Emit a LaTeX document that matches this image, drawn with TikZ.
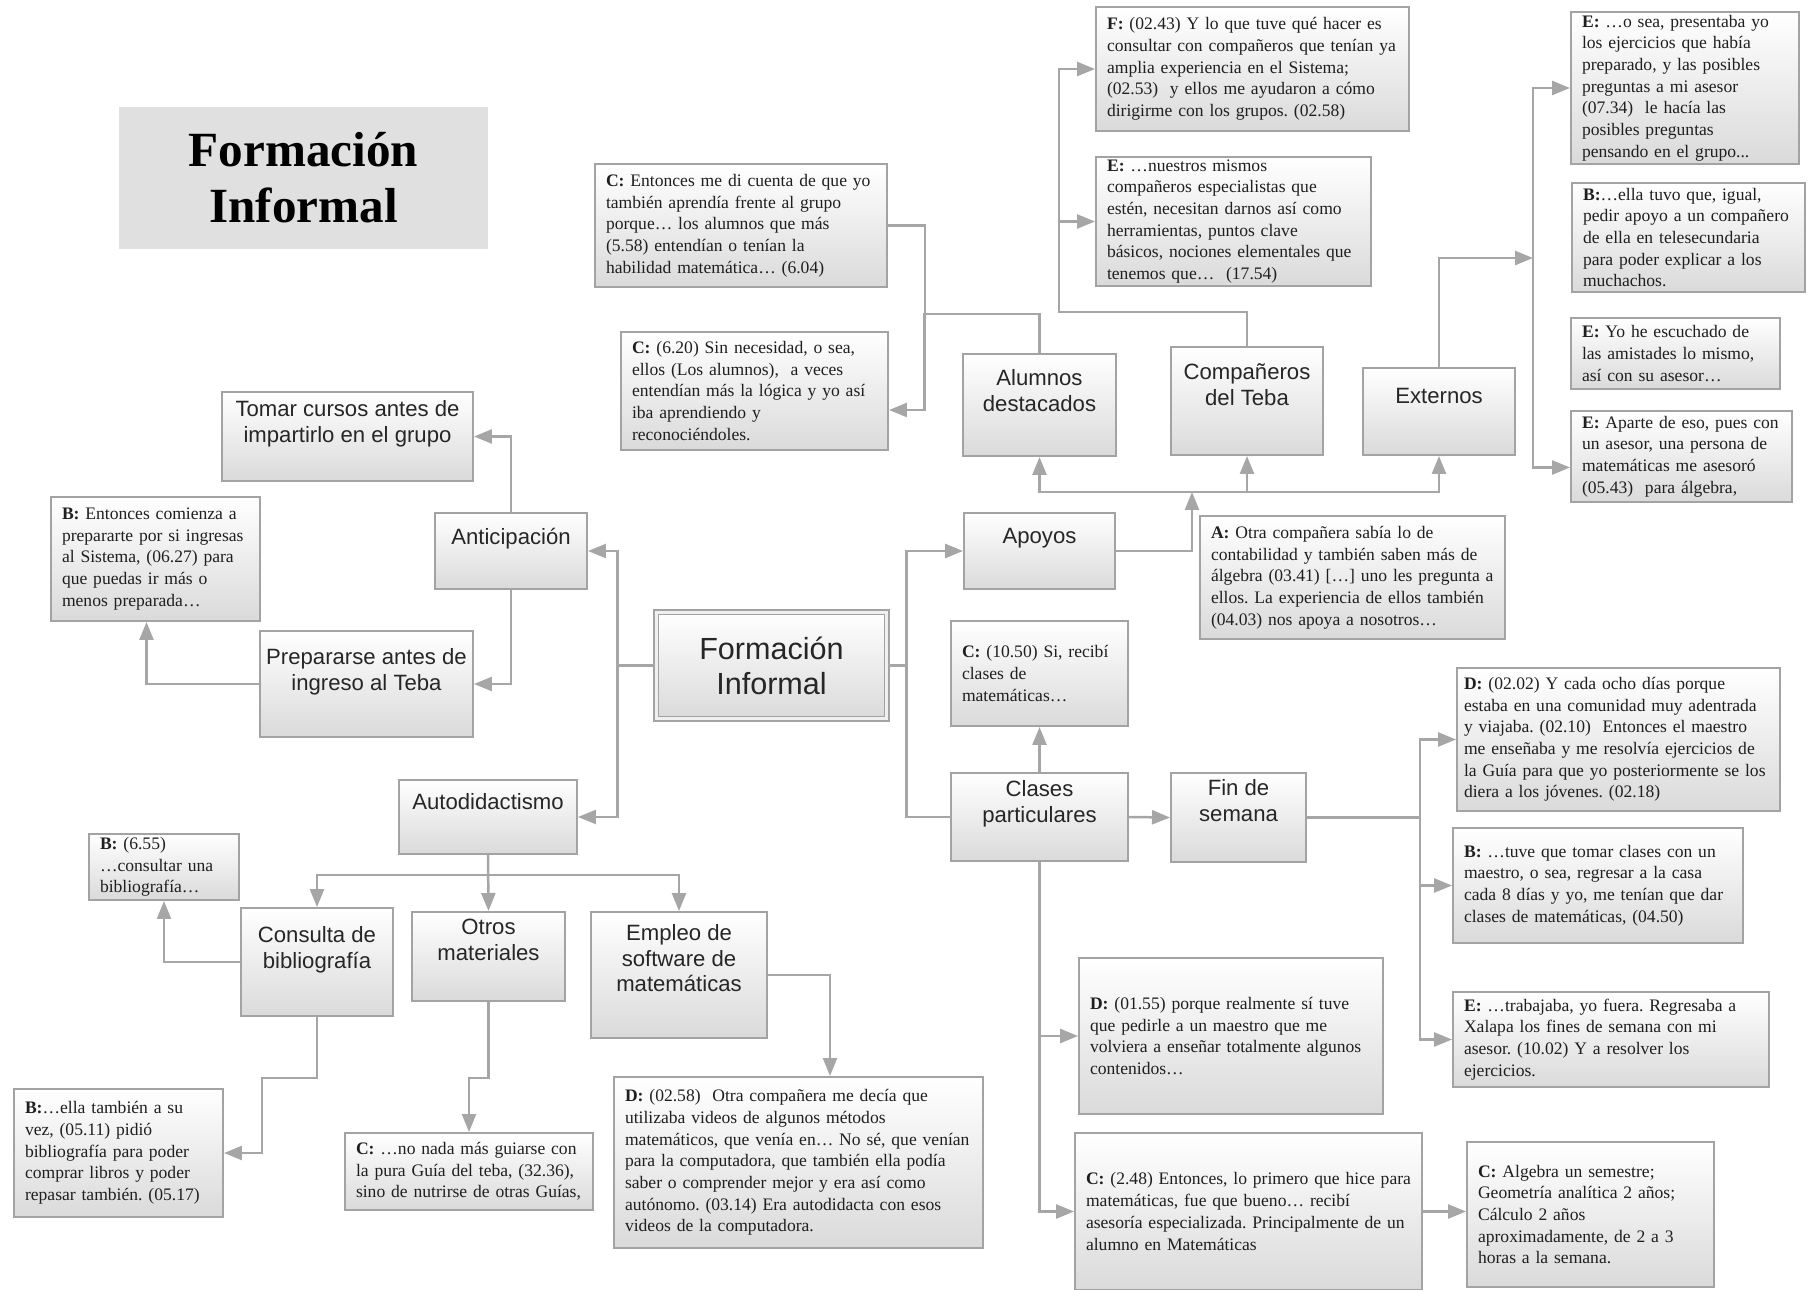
\documentclass[tikz,border=0pt]{standalone}
\usepackage{fontspec}
\setmainfont{Liberation Serif}
\newfontfamily\lbsans{Liberation Sans}
\usepackage{tikz}
\usetikzlibrary{arrows.meta, calc}

\definecolor{boxline}{HTML}{A3A3A3}
\definecolor{boxfill}{HTML}{DADADA}
\definecolor{conline}{HTML}{A6A6A6}
\definecolor{titlefill}{HTML}{E0E0E0}

\frenchspacing

\begin{document}
\begin{tikzpicture}[
  x=0.02cm, y=-0.02cm,
  box/.style={draw=boxline, line width=0.04cm, top color=white, bottom color=boxfill, inner sep=0pt},
  quote/.style={box, align=left, inner xsep=0.22cm, inner ysep=0pt,
                font=\fontsize{10}{12.35}\selectfont, text=black!88},
  lbltxt/.style={anchor=north, inner sep=0pt, align=center,
                 font=\lbsans\fontsize{12.6}{14.6}\selectfont, text=black!85},
  titlebox/.style={fill=titlefill, align=center, font=\bfseries\fontsize{28}{32}\selectfont},
  centro/.style={box, draw=boxline, line width=0.03cm, double=boxfill!40, double distance=0.06cm,
                 align=center, font=\lbsans\fontsize{17.4}{19.8}\selectfont, text=black!85},
  con/.style={draw=conline, line width=0.05cm, -{Triangle[length=0.36cm, width=0.28cm]}},
  link/.style={draw=conline, line width=0.05cm}
]
\useasboundingbox (0,0) rectangle (1809,1290);

% title
\node[titlebox, minimum width=7.38cm, minimum height=2.84cm] (title) at (303.5,178) {Formación\\Informal};

% centre
\node[centro, minimum width=4.62cm, minimum height=2.14cm] (centro) at (771.5,665.5) {Formación\\Informal};

% left side
\node[box, minimum width=5.02cm, minimum height=1.78cm,
      label={[lbltxt, yshift=-0.18cm]north:Tomar cursos antes de\\impartirlo en el grupo}] (tomar) at (347.5,436.5) {};
\node[box, minimum width=3.04cm, minimum height=1.52cm,
      label={[lbltxt, yshift=-0.32cm]north:Anticipación}] (antic) at (511,551) {};
\node[quote, text width=3.74cm, minimum height=2.48cm] (b0627) at (155.5,559)
  {\textbf{B:} Entonces comienza a\\prepararte por si ingresas\\al Sistema, (06.27) para\\que puedas ir más o\\menos preparada…};
\node[box, minimum width=4.26cm, minimum height=2.12cm,
      label={[lbltxt, yshift=-0.36cm]north:Prepararse antes de\\ingreso al Teba}] (prep) at (366.5,684) {};
\node[box, minimum width=3.56cm, minimum height=1.48cm,
      label={[lbltxt, yshift=-0.28cm]north:Autodidactismo}] (autod) at (488,817) {};
\node[quote, text width=2.56cm, minimum height=1.32cm] (b655) at (164,867)
  {\textbf{B:} (6.55)\\…consultar una\\bibliografía…};
\node[box, minimum width=3.04cm, minimum height=2.16cm,
      label={[lbltxt, yshift=-0.38cm]north:Consulta de\\bibliografía}] (consulta) at (317,962) {};
\node[box, minimum width=3.06cm, minimum height=1.78cm,
      label={[lbltxt, yshift=-0.16cm]north:Otros\\materiales}] (otros) at (488.5,956.5) {};
\node[box, minimum width=3.52cm, minimum height=2.52cm,
      label={[lbltxt, yshift=-0.26cm]north:Empleo de\\software de\\matemáticas}] (empleo) at (679,975) {};
\node[quote, text width=3.74cm, minimum height=2.56cm] (bella) at (118.5,1153)
  {\textbf{B:}…ella también a su\\vez, (05.11) pidió\\bibliografía para poder\\comprar libros y poder\\repasar también. (05.17)};
\node[quote, text width=4.52cm, minimum height=1.54cm] (cnonada) at (469,1171.5)
  {\textbf{C:} …no nada más guiarse con\\la pura Guía del teba, (32.36),\\sino de nutrirse de otras Guías,};
\node[quote, text width=6.94cm, minimum height=3.42cm] (d0258) at (798.5,1162.5)
  {\textbf{D:} (02.58)~ Otra compañera me decía que\\utilizaba videos de algunos métodos\\matemáticos, que venía en… No sé, que venían\\para la computadora, que también ella podía\\saber o comprender mejor y era así como\\autónomo. (03.14) Era autodidacta con esos\\videos de la computadora.};

% upper middle
\node[quote, text width=5.4cm, minimum height=2.46cm] (c1) at (741,225.5)
  {\textbf{C:} Entonces me di cuenta de que yo\\también aprendía frente al grupo\\porque… los alumnos que más\\(5.58) entendían o tenían la\\habilidad matemática… (6.04)};
\node[quote, text width=4.9cm, minimum height=2.36cm] (c2) at (754.5,391)
  {\textbf{C:} (6.20) Sin necesidad, o sea,\\ellos (Los alumnos),~ a veces\\entendían más la lógica y yo así\\iba aprendiendo y\\reconociéndoles.};
\node[quote, text width=5.82cm, minimum height=2.48cm] (f0243) at (1252.5,69)
  {\textbf{F:} (02.43) Y lo que tuve qué hacer es\\consultar con compañeros que tenían ya\\amplia experiencia en el Sistema;\\(02.53)~ y ellos me ayudaron a cómo\\dirigirme con los grupos. (02.58)};
\node[quote, text width=5.06cm, minimum height=2.58cm] (enuestros) at (1233.5,221.5)
  {\textbf{E:} …nuestros mismos\\compañeros especialistas que\\estén, necesitan darnos así como\\herramientas, puntos clave\\básicos, nociones elementales que\\tenemos que…~ (17.54)};
\node[box, minimum width=3.06cm, minimum height=2.04cm,
      label={[lbltxt, yshift=-0.32cm]north:Alumnos\\destacados}] (alumnos) at (1039.5,405) {};
\node[box, minimum width=3.04cm, minimum height=2.16cm,
      label={[lbltxt, yshift=-0.35cm]north:Compañeros\\del Teba}] (companeros) at (1247,401) {};
\node[box, minimum width=3.04cm, minimum height=1.74cm,
      label={[lbltxt, yshift=-0.42cm]north:Externos}] (externos) at (1439,411.5) {};

% right column
\node[quote, text width=4.12cm, minimum height=3.04cm] (eosea) at (1685,88)
  {\textbf{E:} …o sea, presentaba yo\\los ejercicios que había\\preparado, y las posibles\\preguntas a mi asesor\\(07.34)~ le hacía las\\posibles preguntas\\pensando en el grupo...};
\node[quote, text width=4.22cm, minimum height=2.18cm] (bellatuvo) at (1688.5,237.5)
  {\textbf{B:}…ella tuvo que, igual,\\pedir apoyo a un compañero\\de ella en telesecundaria\\para poder explicar a los\\muchachos.};
\node[quote, text width=3.74cm, minimum height=1.42cm] (eyohe) at (1675.5,353.5)
  {\textbf{E:} Yo he escuchado de\\las amistades lo mismo,\\así con su asesor…};
\node[quote, text width=3.98cm, minimum height=1.82cm] (eaparte) at (1681.5,456.5)
  {\textbf{E:} Aparte de eso, pues con\\un asesor, una persona de\\matemáticas me asesoró\\(05.43)~ para álgebra,};

% apoyos and clases
\node[box, minimum width=3.02cm, minimum height=1.52cm,
      label={[lbltxt, yshift=-0.32cm]north:Apoyos}] (apoyos) at (1039.5,551) {};
\node[quote, text width=5.66cm, minimum height=2.46cm] (aotra) at (1352.5,577.5)
  {\textbf{A:} Otra compañera sabía lo de\\contabilidad y también saben más de\\álgebra (03.41) […] uno les pregunta a\\ellos. La experiencia de ellos también\\(04.03) nos apoya a nosotros…};
\node[quote, text width=3.1cm, minimum height=2.1cm] (c1050) at (1039.5,673.5)
  {\textbf{C:} (10.50) Si, recibí\\clases de\\matemáticas…};
\node[box, minimum width=3.54cm, minimum height=1.76cm,
      label={[lbltxt, yshift=-0.16cm]north:Clases\\particulares}] (clases) at (1039.5,817) {};
\node[box, minimum width=2.7cm, minimum height=1.78cm,
      label={[lbltxt, yshift=-0.14cm]north:Fin de\\semana}] (fin) at (1238.5,817.5) {};
\node[quote, inner xsep=0.14cm, text width=6.18cm, minimum height=2.86cm] (d0202) at (1618.5,739.5)
  {\textbf{D:} (02.02) Y cada ocho días porque\\estaba en una comunidad muy adentrada\\y viajaba. (02.10)~ Entonces el maestro\\me enseñaba y me resolvía ejercicios de\\la Guía para que yo posteriormente se los\\diera a los jóvenes. (02.18)};
\node[quote, text width=5.36cm, minimum height=2.3cm] (btuve) at (1598,885.5)
  {\textbf{B:} …tuve que tomar clases con un\\maestro, o sea, regresar a la casa\\cada 8 días y yo, me tenían que dar\\clases de matemáticas, (04.50)};
\node[quote, text width=5.88cm, minimum height=1.9cm] (etrab) at (1611,1039.5)
  {\textbf{E:} …trabajaba, yo fuera. Regresaba a\\Xalapa los fines de semana con mi\\asesor. (10.02) Y a resolver los\\ejercicios.};
\node[quote, text width=5.64cm, minimum height=3.12cm] (d0155) at (1231,1036)
  {\textbf{D:} (01.55) porque realmente sí tuve\\que pedirle a un maestro que me\\volviera a enseñar totalmente algunos\\contenidos…};
\node[quote, text width=6.5cm, minimum height=3.14cm] (c248) at (1248.5,1211.5)
  {\textbf{C:} (2.48) Entonces, lo primero que hice para\\matemáticas, fue que bueno… recibí\\asesoría especializada. Principalmente de un\\alumno en Matemáticas};
\node[quote, text width=4.5cm, minimum height=2.9cm] (calg) at (1590.5,1214.5)
  {\textbf{C:} Algebra un semestre;\\Geometría analítica 2 años;\\Cálculo 2 años\\aproximadamente, de 2 a 3\\horas a la semana.};

% connectors, left
\draw[con] (centro.west) -- ++(-38,0) coordinate (lt) |- (antic.east);
\draw[con] (lt) |- (autod.east);
\draw[con] (antic.north) |- (tomar.east);
\draw[con] (antic.south) |- (prep.east);
\draw[con] (prep.west) -| ($(b0627.south)+(-9,0)$);
\draw[con] (autod.south) -- (otros.north);
\draw[con] (autod.south) -- ++(0,20) -| (consulta.north);
\draw[con] (autod.south) -- ++(0,20) -| (empleo.north);
\draw[con] (consulta.west) -| (b655.south);
\draw[con] (consulta.south) |- ++(-55,61) |- (bella.east);
\draw[con] (otros.south) |- ++(-19.5,76) -- (cnonada.north);
\draw[con] (empleo.east) -| ($(d0258.north)+(31.5,0)$);

% connectors, right
\draw[con] (centro.east) -- ++(19,0) coordinate (rt) |- (apoyos.west);
\draw[link] (rt) |- (clases.west);
\draw[con] (clases.north) -- (c1050.south);
\draw[con] (clases.east) -- (fin.west);
\draw[con] (fin.east) -- ++(113,0) coordinate (ft) |- (d0202.west);
\draw[con] (ft) |- (btuve.west);
\draw[con] (ft) |- (etrab.west);
\draw[con] (clases.south) |- (d0155.west);
\draw[con] (clases.south) |- (c248.west);
\draw[con] (c248.east) -- (c248.east -| calg.west);

% apoyos upwards
\draw[con] (apoyos.east) -| ++(76,-59) coordinate (bj);
\draw[con] (bj) -| (alumnos.south);
\draw[con] (bj) -| (companeros.south);
\draw[con] (bj) -| (externos.south);
\draw[con] (alumnos.north) |- ++(-115,-39) |- ($(c2.east)+(0,19)$);
\draw[link] (c1.east) -| ++(37,90);
\draw[con] (companeros.north) |- ++(-188,-34) coordinate (cj) |- (f0243.west);
\draw[con] (cj) |- (enuestros.west);
\draw[con] (externos.north) |- ++(94,-109) coordinate (xj);
\draw[con] (xj) |- (eosea.west);
\draw[con] (xj) |- ($(eaparte.west)+(0,11)$);
\end{tikzpicture}
\end{document}
